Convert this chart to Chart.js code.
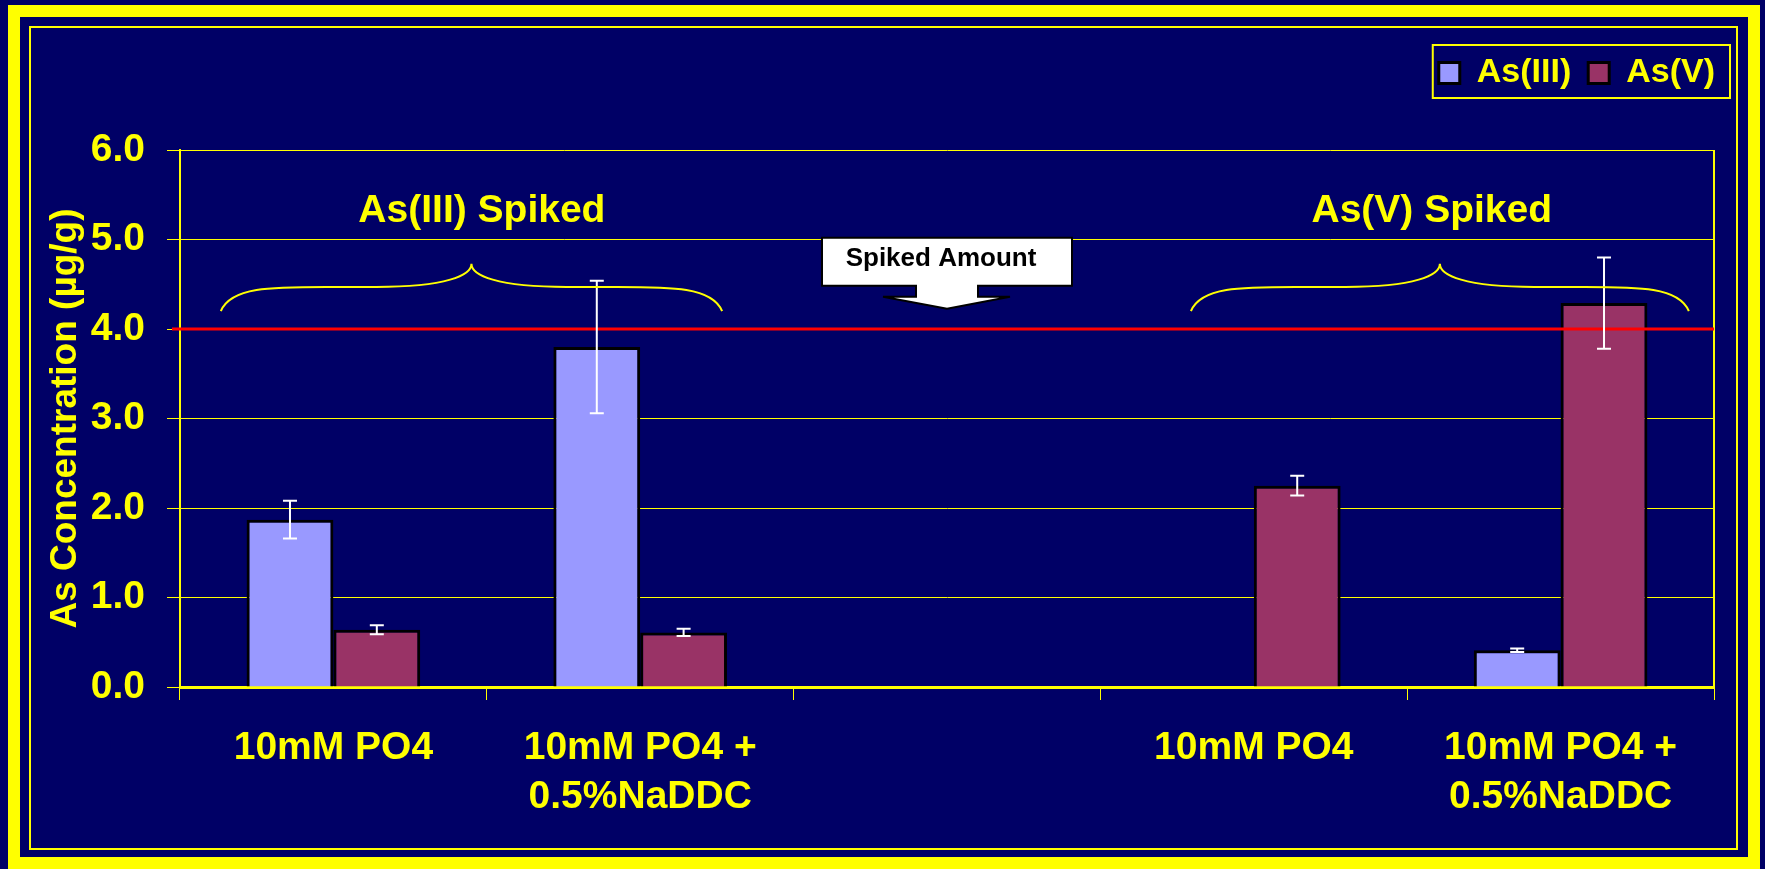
<!DOCTYPE html>
<html>
<head>
<meta charset="utf-8">
<script src="https://cdn.jsdelivr.net/npm/chart.js@4"></script>
<style>
  html, body { margin: 0; padding: 0; background: #000066; overflow: hidden; }
  .frame { position: absolute; box-sizing: border-box; border-style: solid; border-color: #FFFF00; }
  #outer { left: 8px; top: 5px; width: 1752px; height: 864px; border-width: 12px; }
  #inner { left: 29px; top: 26px; width: 1709px; height: 824px; border-width: 2px; }
  #c { position: absolute; left: 0; top: 0; z-index: 1; }
</style>
</head>
<body>
<div class="frame" id="outer"></div>
<div class="frame" id="inner"></div>
<canvas id="c" width="1765" height="869"></canvas>
<script>
const categories = [
  "10mM PO4",
  ["10mM PO4 +", "0.5%NaDDC"],
  "",
  "10mM PO4",
  ["10mM PO4 +", "0.5%NaDDC"],
];
const seriesNames = ["As(III)", "As(V)"];
const as3Values = [1.87, 3.80, null, 0, 0.41];
const as3Errors = [0.21, 0.74, null, 0, 0.02];
const as5Values = [0.64, 0.61, null, 2.25, 4.29];
const as5Errors = [0.05, 0.04, null, 0.11, 0.51];
const spikedAmount = 4.0;
const yTicks = [0, 1, 2, 3, 4, 5, 6];

const YELLOW = "#FFFF00";
const FONT = "'Liberation Sans', Arial, sans-serif";
Chart.defaults.font.family = FONT;

const errors = [as3Errors, as5Errors];

// error bars, spiked line, braces and the callout arrow
const extras = {
  id: "extras",
  afterLayout(chart) {
    const lg = chart.legend;
    lg.top -= 50; lg.bottom -= 50;
    lg.left += 18; lg.right += 18;
  },
  beforeDatasetsDraw(chart) {
    const { ctx, chartArea } = chart;
    ctx.save();
    ctx.strokeStyle = YELLOW;
    ctx.lineWidth = 2;
    ctx.beginPath();
    ctx.moveTo(chartArea.right, chartArea.top);
    ctx.lineTo(chartArea.right, chartArea.bottom);
    ctx.stroke();
    ctx.restore();
  },
  afterDatasetsDraw(chart) {
    const { ctx, chartArea } = chart;
    const xs = chart.scales.x, ys = chart.scales.y;
    ctx.save();

    // spiked amount line
    const yS = ys.getPixelForValue(spikedAmount);
    ctx.strokeStyle = "#FF0000";
    ctx.lineWidth = 3;
    ctx.beginPath();
    ctx.moveTo(chartArea.left - 8, yS);
    ctx.lineTo(chartArea.right, yS);
    ctx.stroke();

    // error bars
    ctx.strokeStyle = "#FFFFFF";
    ctx.lineWidth = 2;
    chart.data.datasets.forEach((ds, i) => {
      const meta = chart.getDatasetMeta(i);
      meta.data.forEach((bar, j) => {
        const v = ds.data[j], e = errors[i][j];
        if (v == null || !e) return;
        const t = ys.getPixelForValue(v + e), b = ys.getPixelForValue(v - e);
        ctx.beginPath();
        ctx.moveTo(bar.x, t); ctx.lineTo(bar.x, b);
        ctx.moveTo(bar.x - 7, t); ctx.lineTo(bar.x + 7, t);
        ctx.moveTo(bar.x - 7, b); ctx.lineTo(bar.x + 7, b);
        ctx.stroke();
      });
    });

    // braces with labels
    const braces = [
      { from: -0.367, to: 1.267, text: "As(III) Spiked", textAt: 0.484 },
      { from: 2.795, to: 4.418, text: "As(V) Spiked", textAt: 3.58 },
    ];
    const yE = ys.getPixelForValue(4.2), yF = ys.getPixelForValue(4.47), yP = ys.getPixelForValue(4.73);
    ctx.strokeStyle = YELLOW;
    ctx.lineWidth = 2;
    ctx.fillStyle = YELLOW;
    ctx.font = "bold 39px " + FONT;
    ctx.textAlign = "center";
    ctx.textBaseline = "alphabetic";
    braces.forEach((br) => {
      const L = xs.getPixelForValue(br.from), R = xs.getPixelForValue(br.to);
      const c = (L + R) / 2, w = (R - L) / 2;
      ctx.beginPath();
      ctx.moveTo(L, yE);
      ctx.bezierCurveTo(L + 0.04 * w, yF, L + 0.2 * w, yF, L + 0.42 * w, yF);
      ctx.lineTo(c - 0.38 * w, yF);
      ctx.bezierCurveTo(c - 0.1 * w, yF, c, yF - (yF - yP) * 0.5, c, yP);
      ctx.bezierCurveTo(c, yF - (yF - yP) * 0.5, c + 0.1 * w, yF, c + 0.38 * w, yF);
      ctx.lineTo(R - 0.42 * w, yF);
      ctx.bezierCurveTo(R - 0.2 * w, yF, R - 0.04 * w, yF, R, yE);
      ctx.stroke();
      ctx.fillText(br.text, xs.getPixelForValue(br.textAt), ys.getPixelForValue(5.2));
    });

    // "Spiked Amount" callout arrow
    const cx = xs.getPixelForValue(2);
    const T = ys.getPixelForValue(5.02);
    const L = cx - 125, R = cx + 125, B = T + 48, H = T + 59, tip = T + 71;
    ctx.beginPath();
    ctx.moveTo(L, T); ctx.lineTo(R, T); ctx.lineTo(R, B);
    ctx.lineTo(cx + 31, B); ctx.lineTo(cx + 31, H); ctx.lineTo(cx + 63, H);
    ctx.lineTo(cx, tip);
    ctx.lineTo(cx - 64, H); ctx.lineTo(cx - 31, H); ctx.lineTo(cx - 31, B);
    ctx.lineTo(L, B); ctx.closePath();
    ctx.fillStyle = "#FFFFFF";
    ctx.fill();
    ctx.strokeStyle = "#000000";
    ctx.lineWidth = 2;
    ctx.stroke();
    ctx.fillStyle = "#000000";
    ctx.font = "bold 26px " + FONT;
    ctx.fillText("Spiked Amount", cx - 6, T + 28);

    ctx.restore();
  },
  afterDraw(chart) {
    const { ctx } = chart;
    const lg = chart.legend;
    const rowStart = lg.right - lg.lineWidths[0];
    ctx.save();
    ctx.strokeStyle = YELLOW;
    ctx.lineWidth = 2;
    ctx.strokeRect(rowStart - 6, lg.top + 6, (lg.right - 2) - (rowStart - 6), 53);
    ctx.restore();
  },
};

new Chart(document.getElementById("c"), {
  type: "bar",
  data: {
    labels: categories,
    datasets: [
      {
        label: seriesNames[0],
        data: as3Values,
        backgroundColor: "#9999FF",
        borderColor: "#000000",
        borderWidth: 3,
      },
      {
        label: seriesNames[1],
        data: as5Values,
        backgroundColor: "#993366",
        borderColor: "#000000",
        borderWidth: 3,
      },
    ],
  },
  options: {
    responsive: false,
    animation: false,
    devicePixelRatio: 1,
    layout: { padding: { top: 89, right: 51, bottom: 0, left: 0 } },
    datasets: { bar: { categoryPercentage: 0.566, barPercentage: 1.0 } },
    plugins: {
      legend: {
        position: "top",
        align: "end",
        labels: {
          color: YELLOW,
          font: { size: 34, weight: "bold" },
          boxWidth: 21,
          boxHeight: 21,
          padding: 17,
        },
      },
      tooltip: { enabled: false },
    },
    scales: {
      x: {
        afterFit: (s) => { s.height = 182; },
        grid: {
          display: true,
          drawOnChartArea: false,
          drawTicks: true,
          tickLength: 13,
          color: YELLOW,
          offset: true,
        },
        border: { display: true, color: YELLOW, width: 3 },
        ticks: {
          color: YELLOW,
          padding: 23,
          maxRotation: 0,
          autoSkip: false,
          font: { size: 39, weight: "bold", lineHeight: 1.27 },
        },
      },
      y: {
        min: yTicks[0],
        max: yTicks[yTicks.length - 1],
        afterFit: (s) => { s.width = 180; },
        afterBuildTicks: (s) => { s.ticks = yTicks.map((v) => ({ value: v })); },
        grid: { color: YELLOW, lineWidth: 1, tickLength: 13 },
        border: { display: true, color: YELLOW, width: 2 },
        ticks: {
          color: YELLOW,
          padding: 22,
          font: { size: 39, weight: "bold" },
          callback: (v) => Number(v).toFixed(1),
        },
        title: {
          display: true,
          text: "As Concentration (µg/g)",
          color: YELLOW,
          font: { size: 37, weight: "bold" },
          padding: { top: 44, bottom: 0 },
        },
      },
    },
  },
  plugins: [extras],
});
</script>
</body>
</html>
